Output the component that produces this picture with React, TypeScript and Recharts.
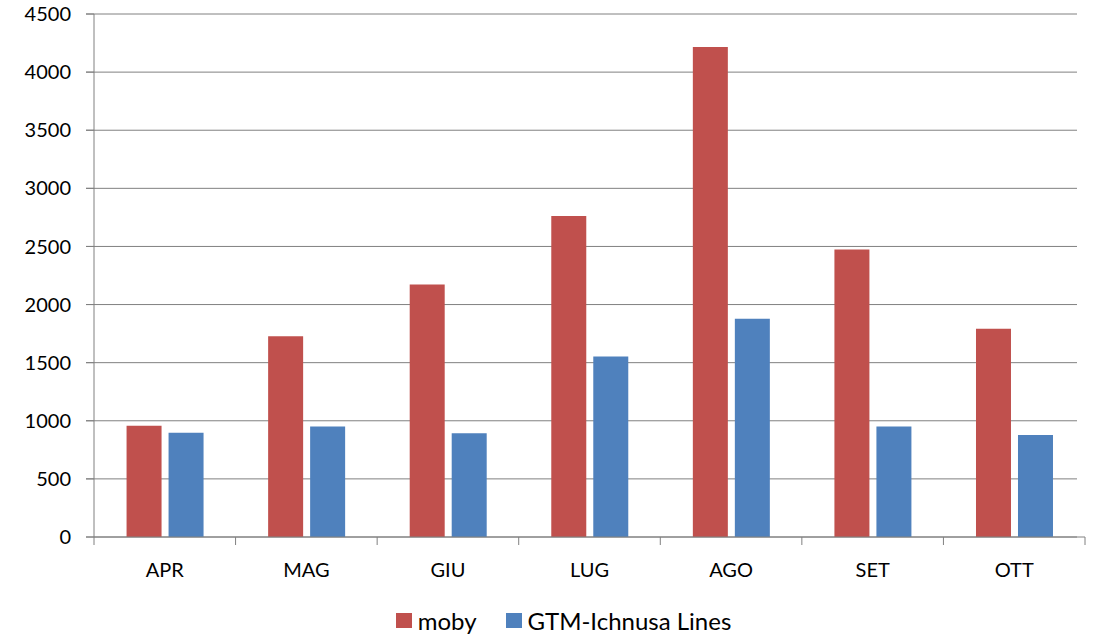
import { BarChart, Bar, XAxis, YAxis, CartesianGrid, Legend } from "recharts";

const months = ["APR", "MAG", "GIU", "LUG", "AGO", "SET", "OTT"];
const moby = [958, 1727, 2173, 2763, 4215, 2474, 1792];
const gtm = [897, 951, 892, 1552, 1878, 951, 878];
const yTicks = [0, 500, 1000, 1500, 2000, 2500, 3000, 3500, 4000, 4500];

const W = 1097;
const H = 638;
const Y_AXIS_W = 94;
const M_RIGHT = 12;
const TICK = 8;
const X_MARGIN = 18;
const FONT = "Lato, 'Open Sans', sans-serif";
const AXIS_COLOR = "#808080";

const rows = months.map((m, i) => ({ month: m, moby: moby[i], gtm: gtm[i] }));
const band = (W - Y_AXIS_W - M_RIGHT) / months.length;

// category axis in the original puts tick marks between the groups, not under them
const XTick = (props: any) => {
  const { x, y, payload, index } = props;
  const axisY = y - TICK - X_MARGIN;
  const left = x - band / 2;
  const right = x + band / 2;
  return (
    <g>
      <line x1={left} x2={left} y1={axisY} y2={axisY + TICK} stroke={AXIS_COLOR} strokeWidth={1} />
      {index === months.length - 1 && (
        <line x1={right} x2={right} y1={axisY} y2={axisY + TICK} stroke={AXIS_COLOR} strokeWidth={1} />
      )}
      <text x={x} y={y} dy="0.71em" textAnchor="middle" fill="#000" fontSize={20} fontFamily={FONT}>
        {payload.value}
      </text>
    </g>
  );
};

const LegendBox = () => {
  const items = [
    { label: "moby", color: "#C0504D" },
    { label: "GTM-Ichnusa Lines", color: "#4F81BD" },
  ];
  return (
    <div
      style={{
        display: "flex",
        justifyContent: "center",
        paddingLeft: 30,
        fontFamily: FONT,
        fontSize: 24,
        color: "#000",
      }}
    >
      {items.map((it, i) => (
        <div key={it.label} style={{ display: "flex", alignItems: "center", marginLeft: i ? 29 : 0 }}>
          <span style={{ width: 16, height: 15, background: it.color, display: "inline-block", marginRight: 6 }} />
          <span>{it.label}</span>
        </div>
      ))}
    </div>
  );
};

export default function App() {
  return (
    <div style={{ position: "absolute", left: 0, top: 0, width: W, height: H, background: "#fff" }}>
      <BarChart
        width={W}
        height={H}
        data={rows}
        margin={{ top: 14, right: M_RIGHT, left: 0, bottom: 50 }}
        barCategoryGap="23%"
        barGap={7}
      >
        <CartesianGrid vertical={false} stroke={AXIS_COLOR} strokeWidth={1} x={Y_AXIS_W - TICK} />
        <XAxis
          dataKey="month"
          height={51}
          tick={<XTick />}
          tickLine={false}
          tickSize={TICK}
          tickMargin={X_MARGIN}
          axisLine={{ stroke: AXIS_COLOR, strokeWidth: 1 }}
          interval={0}
        />
        <YAxis
          width={Y_AXIS_W}
          domain={[0, 4500]}
          ticks={yTicks}
          interval={0}
          tickSize={TICK}
          tickMargin={15}
          tickLine={{ stroke: AXIS_COLOR }}
          axisLine={{ stroke: AXIS_COLOR, strokeWidth: 1 }}
          tick={{ fill: "#000", fontSize: 20, fontFamily: FONT }}
        />
        <Legend
          verticalAlign="middle"
          align="center"
          layout="horizontal"
          wrapperStyle={{ top: 606, left: 0, width: W }}
          content={<LegendBox />}
        />
        <Bar dataKey="moby" name="moby" fill="#C0504D" isAnimationActive={false} />
        <Bar dataKey="gtm" name="GTM-Ichnusa Lines" fill="#4F81BD" isAnimationActive={false} />
      </BarChart>
    </div>
  );
}
